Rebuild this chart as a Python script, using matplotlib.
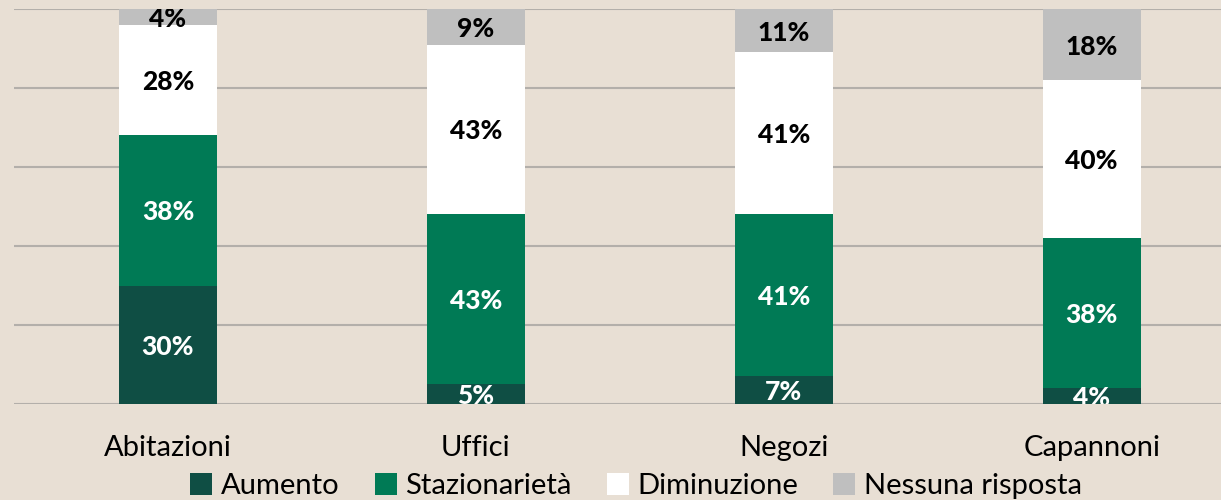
import numpy as np
import matplotlib.pyplot as plt

categories = ['Abitazioni', 'Uffici', 'Negozi', 'Capannoni']
series_names = ['Aumento', 'Stazionarietà', 'Diminuzione', 'Nessuna risposta']
aumento = [30, 5, 7, 4]
stazionarieta = [38, 43, 41, 38]
diminuzione = [28, 43, 41, 40]
nessuna = [4, 9, 11, 18]

colors = ['#0F4E44', '#007A55', '#FFFFFF', '#BFBFBF']
text_colors = ['white', 'white', 'black', 'black']
bg = '#E8DFD4'

plt.rcParams['font.family'] = ['Lato', 'DejaVu Sans']

fig = plt.figure(figsize=(12.21, 5), dpi=100, facecolor=bg)
ax = fig.add_axes([14 / 1221, 96 / 500, 1 - 14 / 1221, 395 / 500])
ax.set_facecolor(bg)

x = np.arange(len(categories))
bottom = np.zeros(len(categories))
for name, vals, col, tc in zip(series_names, [aumento, stazionarieta, diminuzione, nessuna], colors, text_colors):
    vals = np.array(vals, dtype=float)
    ax.bar(x, vals, 0.318, bottom=bottom, color=col, label=name, zorder=3)
    for xi, b, v in zip(x, bottom, vals):
        ax.text(xi, b + v / 2, f'{int(v)}%', ha='center', va='center_baseline', color=tc,
                fontsize=19, fontweight='black', zorder=4, clip_on=True)
    bottom += vals

ax.set_xlim(-0.5, 3.42)
ax.set_ylim(0, 100)
ax.set_yticks([0, 20, 40, 60, 80, 100])
ax.yaxis.grid(True, color='#B3AFAA', linewidth=1.5, zorder=0)
ax.tick_params(axis='y', left=False, labelleft=False)
ax.tick_params(axis='x', length=0, pad=22, labelsize=21)
ax.set_xticks(x)
ax.set_xticklabels(categories)
for s in ax.spines.values():
    s.set_visible(False)

leg = fig.legend(loc='center', bbox_to_anchor=(0.521, 0.028), ncol=4, frameon=False,
                 fontsize=21, handlelength=0.75, handleheight=0.75, handletextpad=0.3,
                 columnspacing=1.2)

fig.savefig('out.png', dpi=100, facecolor=bg)
